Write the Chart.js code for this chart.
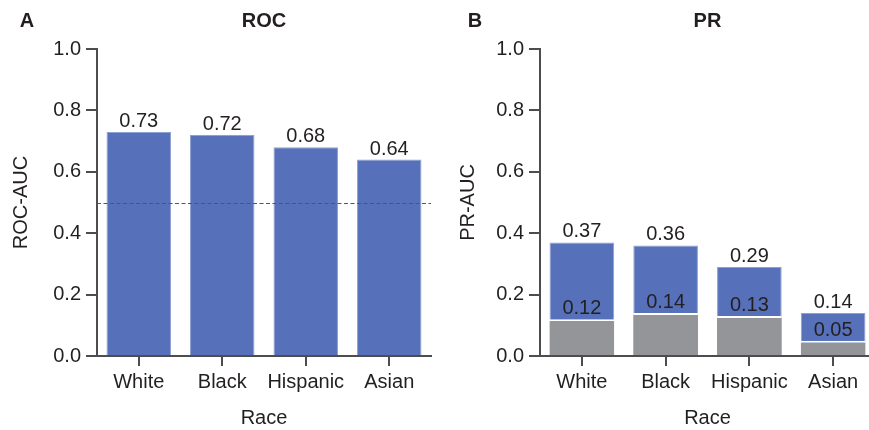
<!DOCTYPE html>
<html>
<head>
<meta charset="utf-8">
<script src="https://cdn.jsdelivr.net/npm/chart.js@4.4.1/dist/chart.umd.min.js"></script>
<style>
  html, body { margin: 0; padding: 0; background: #fff; overflow: hidden; }
  body { width: 869px; height: 430px; position: relative; }
  .panel { position: absolute; top: 0; width: 440px; height: 430px; }
  #wrapA { left: 0; }
  #wrapB { left: 440px; }
</style>
</head>
<body>
<div class="panel" id="wrapA"><canvas id="rocChart" width="440" height="430"></canvas></div>
<div class="panel" id="wrapB"><canvas id="prChart" width="440" height="430"></canvas></div>
<script>
// Groups and metric values
const races = ['White', 'Black', 'Hispanic', 'Asian'];
const rocAuc = [0.73, 0.72, 0.68, 0.64];
const prAuc = [0.37, 0.36, 0.29, 0.14];
const prBaseline = [0.12, 0.14, 0.13, 0.05];
const chanceLevel = 0.5;
const yTickValues = [0.0, 0.2, 0.4, 0.6, 0.8, 1.0];

const BLUE = '#5671b9';
const GRAY = '#939598';
const TEXT = '#231f20';
const AXIS = '#4d4d4d';
const FONT = "'Liberation Sans', Arial, Helvetica, sans-serif";

// Panel letter and centred title above the plot area
const panelTitle = {
  id: 'panelTitle',
  afterDraw(chart, args, opts) {
    const ctx = chart.ctx;
    const area = chart.chartArea;
    ctx.save();
    ctx.fillStyle = TEXT;
    ctx.font = 'bold 20px ' + FONT;
    ctx.textBaseline = 'middle';
    ctx.textAlign = 'center';
    ctx.fillText(opts.letter, opts.letterX, 21);
    ctx.fillText(opts.title, (area.left + area.right) / 2, 21);
    ctx.restore();
  }
};

// Value labels above each bar
const barValues = {
  id: 'barValues',
  afterDatasetsDraw(chart) {
    const ctx = chart.ctx;
    ctx.save();
    ctx.fillStyle = TEXT;
    ctx.font = '20px ' + FONT;
    ctx.textAlign = 'center';
    ctx.textBaseline = 'alphabetic';
    chart.data.datasets.forEach((ds, i) => {
      const meta = chart.getDatasetMeta(i);
      meta.data.forEach((bar, j) => {
        ctx.fillText(ds.data[j].toFixed(2), bar.x, bar.y - 5);
      });
    });
    ctx.restore();
  }
};

// Dashed reference line across the plot
const refLine = {
  id: 'refLine',
  afterDatasetsDraw(chart, args, opts) {
    if (opts.value == null) return;
    const ctx = chart.ctx;
    const area = chart.chartArea;
    const y = chart.scales.y.getPixelForValue(opts.value);
    ctx.save();
    ctx.strokeStyle = '#555';
    ctx.lineWidth = 1;
    ctx.setLineDash([4, 2.5]);
    ctx.beginPath();
    ctx.moveTo(area.left, Math.round(y) + 0.5);
    ctx.lineTo(area.right, Math.round(y) + 0.5);
    ctx.stroke();
    ctx.restore();
  }
};

function makeOptions(cfg) {
  return {
    responsive: false,
    animation: false,
    devicePixelRatio: 1,
    layout: { padding: { top: 49, left: 0, right: cfg.rightPad, bottom: 0 } },
    plugins: {
      legend: { display: false },
      tooltip: { enabled: false },
      panelTitle: { letter: cfg.letter, letterX: cfg.letterX, title: cfg.title },
      refLine: { value: cfg.refValue }
    },
    scales: {
      x: {
        z: 1,
        offset: true,
        afterFit(scale) { scale.height = 74; },
        border: { display: true, color: AXIS, width: 2 },
        grid: { display: true, offset: false, drawOnChartArea: false, drawTicks: true, tickLength: 10, color: AXIS, lineWidth: 2 },
        ticks: { color: TEXT, font: { family: FONT, size: 20 }, padding: 4, maxRotation: 0, autoSkip: false },
        title: { display: true, text: 'Race', color: TEXT, font: { family: FONT, size: 20 }, padding: { top: 0, bottom: 0 } }
      },
      y: {
        z: 1,
        min: 0,
        max: 1,
        afterFit(scale) { scale.width = cfg.yWidth; },
        afterBuildTicks(scale) { scale.ticks = yTickValues.map(v => ({ value: v })); },
        border: { display: true, color: AXIS, width: 2 },
        grid: { display: true, drawOnChartArea: false, drawTicks: true, tickLength: 11, color: AXIS, lineWidth: 2 },
        ticks: { color: TEXT, font: { family: FONT, size: 20 }, padding: 5, callback: v => Number(v).toFixed(1) },
        title: { display: true, text: cfg.yTitle, color: TEXT, font: { family: FONT, size: 20 }, padding: { top: cfg.yTitlePad, bottom: 0 } }
      }
    }
  };
}

new Chart(document.getElementById('rocChart'), {
  type: 'bar',
  data: {
    labels: races,
    datasets: [{
      data: rocAuc,
      backgroundColor: BLUE,
      borderColor: '#8e9fd2',
      borderWidth: { top: 1, left: 1, right: 1, bottom: 0 },
      barPercentage: 0.772,
      categoryPercentage: 1.0
    }]
  },
  options: makeOptions({ letter: 'A', letterX: 27, title: 'ROC', rightPad: 9, yWidth: 97, yTitle: 'ROC-AUC', yTitlePad: 9, refValue: chanceLevel }),
  plugins: [panelTitle, barValues, refLine]
});

new Chart(document.getElementById('prChart'), {
  type: 'bar',
  data: {
    labels: races,
    datasets: [
      {
        // prevalence baseline, drawn in front of the model bars
        data: prBaseline,
        backgroundColor: GRAY,
        borderColor: '#ffffff',
        borderWidth: { top: 2, left: 0, right: 0, bottom: 0 },
        borderSkipped: false,
        grouped: false,
        order: 0,
        barPercentage: 0.772,
        categoryPercentage: 1.0
      },
      {
        data: prAuc,
        backgroundColor: BLUE,
        borderColor: '#8e9fd2',
        borderWidth: { top: 1, left: 1, right: 1, bottom: 0 },
        grouped: false,
        order: 1,
        barPercentage: 0.772,
        categoryPercentage: 1.0
      }
    ]
  },
  options: makeOptions({ letter: 'B', letterX: 35, title: 'PR', rightPad: 5, yWidth: 100, yTitle: 'PR-AUC', yTitlePad: 16, refValue: null }),
  plugins: [panelTitle, barValues, refLine]
});
</script>
</body>
</html>
